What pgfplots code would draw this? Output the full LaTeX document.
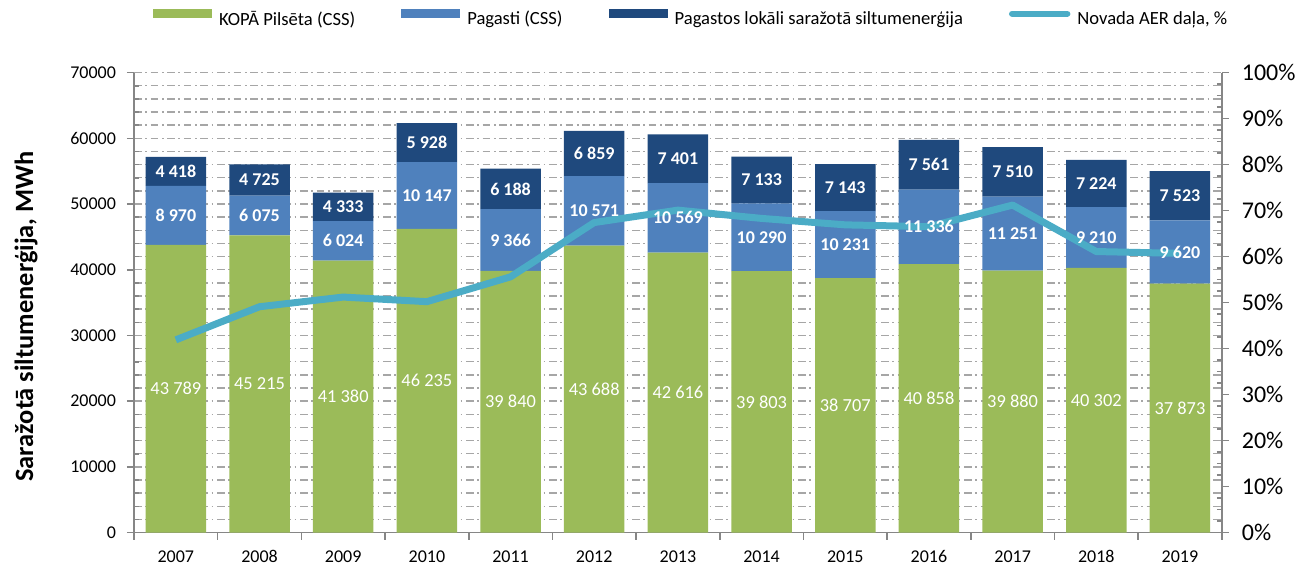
\documentclass[border=0pt]{standalone}
\usepackage{pgfplots}
\usepackage{pgfplotstable}
\pgfplotsset{compat=1.18}
\usepackage{fontspec}
\setmainfont{Carlito}

\definecolor{cGreen}{HTML}{9BBB59}
\definecolor{cBlue}{HTML}{4F81BD}
\definecolor{cDark}{HTML}{1F497D}
\definecolor{cLine}{HTML}{4BACC6}
\definecolor{cAxis}{HTML}{868686}
\definecolor{cGrid}{HTML}{A6A6A6}

% x = category index (2007 ... 2019), a = city, b = parishes, c = local, p = share %
\pgfplotstableread{
x a b c p
0 43789 8970 4418 41.9
1 45215 6075 4725 49.1
2 41380 6024 4333 51.2
3 46235 10147 5928 50.2
4 39840 9366 6188 55.6
5 43688 10571 6859 67.4
6 42616 10569 7401 70.1
7 39803 10290 7133 68.3
8 38707 10231 7143 66.9
9 40858 11336 7561 66.5
10 39880 11251 7510 71.2
11 40302 9210 7224 61.1
12 37873 9620 7523 60.7
}\data

\pgfplotsset{
  base/.style={scale only axis, width=543.9pt, height=230pt,
    xmin=-0.5, xmax=12.5,
    /pgf/number format/assume math mode=true,
    tick label style={font=\fontsize{9}{11}\selectfont}},
  patch/.style={legend image code/.code={\fill[##1] (0pt,0.6pt) rectangle (29.5pt,5.2pt);}},
  linelegend/.style={legend image code/.code={\draw[##1] (1pt,2.9pt) -- (28.5pt,2.9pt);}},
  lbl/.style={draw=none, mark=none, point meta=explicit,
    nodes near coords={\pgfmathprintnumber[fixed,precision=0,1000 sep={\ }]{\pgfplotspointmeta}},
    every node near coord/.append style={anchor=center, text=white, inner sep=0pt}},
}

\begin{document}
\begin{tikzpicture}
\begin{axis}[base,
  ybar stacked, bar width=0.723,
  ymin=0, ymax=70000,
  ytick={0,10000,...,70000}, minor y tick num=4,
  scaled y ticks=false,
  yticklabel style={/pgf/number format/1000 sep={}, xshift=-2pt},
  ymajorgrids, yminorgrids,
  grid style={cGrid, line width=0.75pt, dash pattern=on 3.8pt off 1.8pt on 0.9pt off 1.8pt},
  axis x line*=bottom, axis y line*=left,
  axis line style={cAxis, line width=0.8pt},
  tick style={cAxis, line width=0.8pt},
  tick align=outside, major tick length=3.5pt, minor tick length=-2.5pt,
  xtick={-0.5,0.5,...,12.5}, x tick label as interval,
  xticklabels={2007,2008,2009,2010,2011,2012,2013,2014,2015,2016,2017,2018,2019},
  xticklabel style={yshift=-2pt},
  every axis y label/.style={at={(rel axis cs:0,0.47)}, rotate=90, anchor=center,
    yshift=54pt, font=\bfseries\fontsize{13.2}{15}\selectfont},
  ylabel={Saražotā siltumenerģija, MWh},
  legend columns=4, legend cell align=left,
  legend style={at={(axis description cs:0,1)}, anchor=west, xshift=9.5pt, yshift=27pt,
    draw=none, fill=none, inner sep=0pt, outer sep=0pt,
    font=\fontsize{9.3}{11}\selectfont, nodes={inner sep=0pt},
    /tikz/every even column/.append style={column sep=23pt},
    /tikz/every odd column/.append style={column sep=3.5pt}},
]
\addplot[fill=cGreen, draw=none, patch] table[x=x, y=a]{\data};
\addlegendentry{KOPĀ Pilsēta (CSS)}
\addplot[fill=cBlue, draw=none, patch] table[x=x, y=b]{\data};
\addlegendentry{Pagasti (CSS)}
\addplot[fill=cDark, draw=none, patch] table[x=x, y=c]{\data};
\addlegendentry{Pagastos lokāli saražotā siltumenerģija}
\addlegendimage{cLine, line width=3.2pt, line cap=round, linelegend}
\addlegendentry{Novada AER daļa, \%}
\end{axis}

\begin{axis}[base,
  ymin=0, ymax=100,
  axis y line*=right, axis x line=none,
  ytick={0,10,...,100}, minor y tick num=3,
  yticklabel={\pgfmathprintnumber{\tick}\%},
  yticklabel style={font=\fontsize{12}{14}\selectfont, xshift=3pt},
  axis line style={cAxis, line width=0.8pt},
  tick style={cAxis, line width=0.8pt},
  tick align=outside, major tick length=3.5pt, minor tick length=-2.5pt,
]
\addplot[cLine, line width=3.5pt, line join=round, mark=none] table[x=x, y=p]{\data};
\end{axis}

\begin{axis}[base, ymin=0, ymax=70000, hide axis]
\addplot[lbl, every node near coord/.append style={font=\fontsize{9.2}{11}\selectfont}]
  table[x=x, y expr=\thisrow{a}/2, meta=a]{\data};
\addplot[lbl, every node near coord/.append style={font=\bfseries\fontsize{9}{11}\selectfont}]
  table[x=x, y expr=\thisrow{a}+\thisrow{b}/2, meta=b]{\data};
\addplot[lbl, every node near coord/.append style={font=\bfseries\fontsize{9}{11}\selectfont}]
  table[x=x, y expr=\thisrow{a}+\thisrow{b}+\thisrow{c}/2, meta=c]{\data};
\end{axis}

\pgfresetboundingbox
\path[use as bounding box] (-67pt,-16.7pt) rectangle (585pt,266.3pt);
\end{tikzpicture}
\end{document}
